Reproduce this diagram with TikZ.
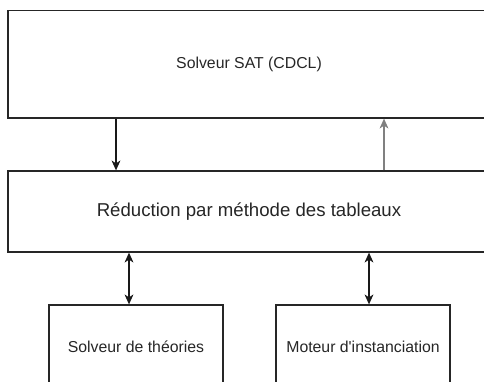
\documentclass[tikz,border=0pt]{standalone}
\usepackage{fontspec}
\setmainfont{Liberation Sans}
\usetikzlibrary{arrows.meta}

\tikzset{
  bloc/.style={draw=black!85, line width=1.8pt, rectangle, inner sep=0pt, align=center, text=black!85},
  fleche/.style={line width=1.8pt, -{Stealth[length=14pt, width=12.5pt, inset=4pt]}},
  doublefleche/.style={line width=1.8pt, {Stealth[length=14pt, width=12.5pt, inset=4pt]}-{Stealth[length=14pt, width=12.5pt, inset=4pt]}}
}

\begin{document}
\begin{tikzpicture}
            \useasboundingbox (0, 0) rectangle (24.2, -19.05);
            \clip (0, 0) rectangle (24.2, -19.05);

            \node[bloc, minimum width=24.1cm, minimum height=5.375cm, font=\fontsize{22.5}{26}\selectfont] (sat) at (12.45, -3.2125) {Solveur SAT (CDCL)};
            \node[bloc, minimum width=24.1cm, minimum height=4.05cm, font=\fontsize{26.5}{30}\selectfont] (red) at (12.45, -10.575) {Réduction par méthode des tableaux};

            \node[bloc, minimum width=8.7cm, minimum height=4.15cm, font=\fontsize{22.5}{26}\selectfont] (theo) at (6.8, -17.325) {Solveur de théories};
            \node[bloc, minimum width=8.7cm, minimum height=4.15cm, font=\fontsize{22.5}{26}\selectfont] (inst) at (18.15, -17.325) {Moteur d\textquotesingle instanciation};

            \coordinate (bas) at (5.8, 0);
            \coordinate (haut) at (19.2, 0);
            \coordinate (gauche) at (6.45, 0);
            \coordinate (droite) at (18.45, 0);

            \draw[fleche, black!90] (sat.south -| bas) -- (red.north -| bas);
            \draw[fleche, black!50] (red.north -| haut) -- (sat.south -| haut);

            \draw[doublefleche, black!90] (red.south -| gauche) -- (theo.north -| gauche);
            \draw[doublefleche, black!90] (red.south -| droite) -- (inst.north -| droite);
        \end{tikzpicture}
\end{document}
